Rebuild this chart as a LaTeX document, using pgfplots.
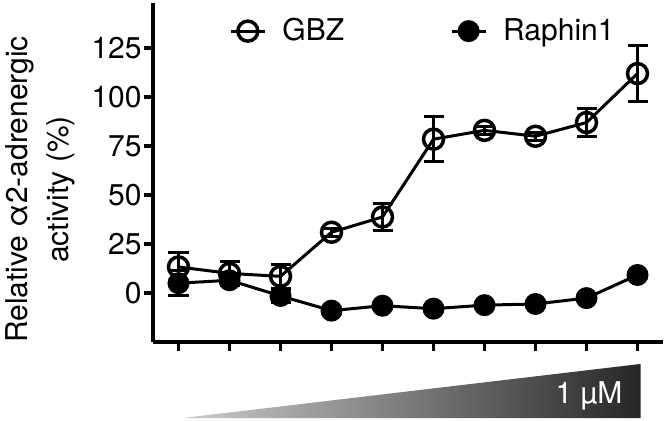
\documentclass[border=0pt]{standalone}
\usepackage{pgfplots}
\pgfplotsset{compat=1.18}
\usepackage{fontspec}
\setmainfont{TeX Gyre Heros}
\pgfplotstableread{
x y e
1 13.3 7.5
2 10 6
3 8.5 6
4 31 2
5 38.8 7
6 78.5 11.5
7 83 2
8 80 2
9 87 7
10 112 14.5
}\gbz
\pgfplotstableread{
x y e
1 5 6.5
2 6.5 2
3 -1.5 3.5
4 -9 1
5 -6.5 1
6 -8 1
7 -6.2 1
8 -5.6 1
9 -2.6 1
10 9.2 1
}\raphin
\begin{document}
\begin{tikzpicture}
\useasboundingbox (-76.5pt,-39.5pt) rectangle (257.5pt,171pt);
\begin{axis}[
  at={(0pt,0pt)}, anchor=south west,
  scale only axis, width=255pt, height=169.5pt,
  xmin=0.5, xmax=10.5, ymin=-25, ymax=148,
  axis x line*=bottom, axis y line*=left,
  axis line style={line width=1.75pt, -},
  xtick={1,...,10}, xticklabels={},
  ytick={0,25,50,75,100,125},
  tick align=outside, major tick length=4.5pt,
  every tick/.style={black, line width=1.6pt},
  tick label style={font=\fontsize{15}{18}\selectfont},
  /pgf/number format/assume math mode=true,
  yticklabel style={inner xsep=1pt},
  ylabel={Relative α2-adrenergic\\activity (\%)},
  ylabel style={at={(axis description cs:-0.29,0.45)}, anchor=north, align=center, inner sep=0pt, font=\fontsize{15}{20.5}\selectfont},
  clip=false,
  legend style={draw=none, fill=none, legend columns=2, at={(axis description cs:0.137,0.917)}, anchor=west, font=\fontsize{15}{18}\selectfont,
    /tikz/every odd column/.append style={column sep=6pt},
    /tikz/every even column/.append style={column sep=51pt}},
]
\addplot[black, line width=1.5pt, mark=o, mark size=5pt, mark options={line width=1.75pt, solid},
  error bars/.cd, y dir=both, y explicit,
  error mark options={rotate=90, mark size=5pt, line width=1.5pt, black},
  error bar style={line width=1.5pt, black}]
  table[x=x, y=y, y error=e] {\gbz};
\addlegendentry{GBZ}
\addplot[black, line width=1.5pt, mark=*, mark size=5pt, mark options={line width=1pt, solid, fill=black},
  error bars/.cd, y dir=both, y explicit,
  error mark options={rotate=90, mark size=5pt, line width=1.5pt, black},
  error bar style={line width=1.5pt, black}]
  table[x=x, y=y, y error=e] {\raphin};
\addlegendentry{Raphin1}
\shade[left color=black!20, right color=black!85] (axis cs:1.08,-63.8) -- (axis cs:10.06,-63.8) -- (axis cs:10.06,-36.2) -- cycle;
\node[anchor=east, text=white, inner sep=0pt, font=\fontsize{15}{18}\selectfont] at (axis cs:9.71,-52.5) {1 µM};
\end{axis}
\end{tikzpicture}
\end{document}
